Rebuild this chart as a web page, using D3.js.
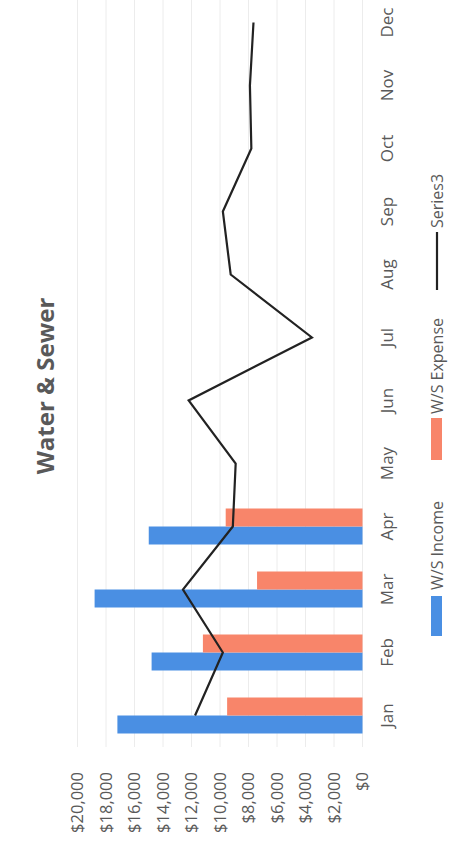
<!DOCTYPE html>
<html lang="en">
<head>
    <meta charset="UTF-8">
    <title>Water &amp; Sewer</title>
    <script src="https://d3js.org/d3.v7.min.js"></script>
    <style>
        body { margin: 0; background: #fff; }
        svg { display: block; }
        text { font-family: "Open Sans", "Liberation Sans", sans-serif; fill: #595959; }
        .axis path, .axis line { display: none; }
        .grid line { stroke: #ececec; stroke-width: 1px; }
    </style>
</head>
<body>
<svg id="chart" width="467" height="845"></svg>
<script>
    const months = ["Jan", "Feb", "Mar", "Apr", "May", "Jun", "Jul", "Aug", "Sep", "Oct", "Nov", "Dec"];
    const income = [17200, 14800, 18800, 15000];
    const expense = [9500, 11200, 7400, 9600];
    const series3 = [11750, 9800, 12600, 9100, 8900, 12200, 3550, 9250, 9800, 7800, 7900, 7650];
    const valueTicks = [0, 2000, 4000, 6000, 8000, 10000, 12000, 14000, 16000, 18000, 20000];

    const W = 467, H = 845;
    const svg = d3.select("#chart");

    // the chart is drawn as a normal column chart, then turned 90deg counter-clockwise
    const g = svg.append("g")
        .attr("transform", `translate(0,${H}) rotate(-90)`);

    let x = d3.scaleBand().domain(months).range([98, 854]);
    let y = d3.scaleLinear().domain([0, 20000]).range([362.5, 77.5]);

    let step = x.bandwidth();
    let barW = step * 18 / 63;

    // gridlines
    g.append("g").attr("class", "grid")
        .selectAll("line")
        .data(valueTicks)
        .enter().append("line")
        .attr("x1", 98).attr("x2", 854)
        .attr("y1", d => y(d)).attr("y2", d => y(d));

    // bars
    g.selectAll(".inc")
        .data(income)
        .enter().append("rect")
        .attr("class", "inc")
        .attr("x", (d, i) => x(months[i]) + step / 2 - barW)
        .attr("y", d => y(d))
        .attr("width", barW)
        .attr("height", d => y(0) - y(d))
        .attr("fill", "#4a8fe3");

    g.selectAll(".exp")
        .data(expense)
        .enter().append("rect")
        .attr("class", "exp")
        .attr("x", (d, i) => x(months[i]) + step / 2)
        .attr("y", d => y(d))
        .attr("width", barW)
        .attr("height", d => y(0) - y(d))
        .attr("fill", "#f8856a");

    // line series
    let line = d3.line()
        .x((d, i) => x(months[i]) + step / 2)
        .y(d => y(d));

    g.append("path")
        .datum(series3)
        .attr("d", line)
        .attr("fill", "none")
        .attr("stroke", "#222")
        .attr("stroke-width", 2.2)
        .attr("stroke-linejoin", "miter");

    // axes
    g.append("g").attr("class", "axis")
        .attr("transform", `translate(98,0)`)
        .call(d3.axisLeft(y).tickValues(valueTicks).tickFormat(d3.format("$,.0f")).tickSize(0).tickPadding(25))
        .selectAll("text")
        .style("font-size", "16.5px")
        .attr("fill", "#595959");

    g.append("g").attr("class", "axis")
        .attr("transform", `translate(0,${y(0)})`)
        .call(d3.axisBottom(x).tickSize(0).tickPadding(18))
        .selectAll("text")
        .style("font-size", "17px")
        .attr("fill", "#595959");

    g.selectAll(".axis text").style("font-family", "'Open Sans', sans-serif");

    // title
    g.append("text")
        .attr("x", 459)
        .attr("y", 54)
        .attr("text-anchor", "middle")
        .style("font-size", "24px")
        .style("font-weight", "bold")
        .text("Water & Sewer");

    // legend
    let leg = g.append("g").attr("transform", "translate(0,437)");
    leg.append("rect").attr("x", 209).attr("y", -6).attr("width", 40).attr("height", 11).attr("fill", "#4a8fe3");
    leg.append("text").attr("x", 255).attr("y", 5.5).style("font-size", "16px").text("W/S Income");
    leg.append("rect").attr("x", 385).attr("y", -6).attr("width", 42).attr("height", 11).attr("fill", "#f8856a");
    leg.append("text").attr("x", 431).attr("y", 5.5).style("font-size", "16px").text("W/S Expense");
    leg.append("line").attr("x1", 555).attr("x2", 613).attr("y1", 0).attr("y2", 0)
        .attr("stroke", "#222").attr("stroke-width", 2.2);
    leg.append("text").attr("x", 617).attr("y", 5.5).style("font-size", "16px").text("Series3");
</script>
</body>
</html>
